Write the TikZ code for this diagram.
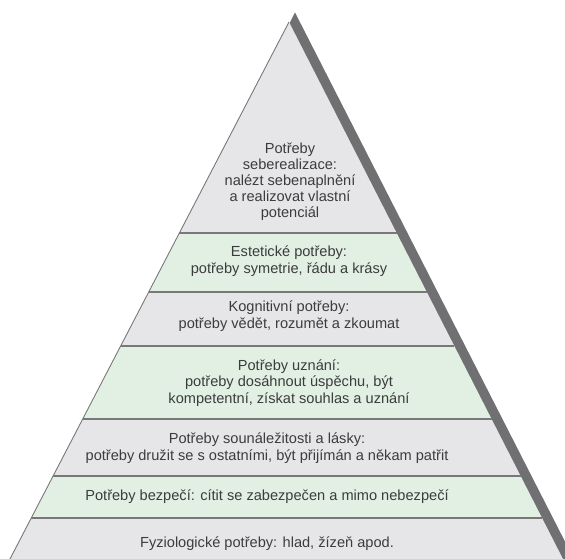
\documentclass[tikz,border=0pt]{standalone}
\usepackage{fontspec}
\setmainfont{Liberation Sans}
\definecolor{layergrey}{RGB}{230,230,233}
\definecolor{layergreen}{RGB}{226,239,227}
\definecolor{shadowgrey}{RGB}{112,112,114}
\definecolor{rulegrey}{RGB}{120,120,122}
\definecolor{textgrey}{RGB}{60,60,62}
\tikzset{
  layertext/.style={align=center, text=textgrey, font=\fontsize{14.6}{16.8}\selectfont, inner sep=0pt},
  rule/.style={draw=rulegrey, line width=1.4pt},
  edge/.style={draw=rulegrey, line width=0.9pt}
}
\newcommand{\xL}[1]{289-0.5196*(#1-22)}
\newcommand{\xR}[1]{289+0.5102*(#1-22)}
\begin{document}
\begin{tikzpicture}[x=1pt,y=-1pt]
\useasboundingbox (0,0) rectangle (565,559);
\clip (0,0) rectangle (565,559);
% shadow triangle
\fill[shadowgrey] (295,12.5) -- (580,571) -- (10,571) -- cycle;
% layers
\fill[layergrey] (289,22) -- ({\xR{233}},233) -- ({\xL{233}},233) -- cycle;
\foreach \ya/\yb/\col in {233/292/layergreen, 292/346/layergrey, 346/419/layergreen, 419/476/layergrey, 476/518/layergreen, 518/565/layergrey}{
  \fill[\col] ({\xL{\ya}},\ya) -- ({\xR{\ya}},\ya) -- ({\xR{\yb}},\yb) -- ({\xL{\yb}},\yb) -- cycle;
}
% boundaries
\foreach \y in {233,292,346,419,476,518}{
  \draw[rule] ({\xL{\y}},\y) -- ({\xR{\y}},\y);
}
\draw[edge] (289,22) -- ({\xL{565}},565);
% texts
\node[layertext, font=\fontsize{14.6}{16}\selectfont] (self) at (290,182) {Potřeby\\seberealizace:\\nalézt sebenaplnění\\a realizovat vlastní\\potenciál};
\node[layertext] (aest) at (289,261) {Estetické potřeby:\\potřeby symetrie, řádu a krásy};
\node[layertext] (cogn) at (289,316) {Kognitivní potřeby:\\potřeby vědět, rozumět a zkoumat};
\node[layertext] (este) at (289,383) {Potřeby uznání:\\potřeby dosáhnout úspěchu, být\\kompetentní, získat souhlas a uznání};
\node[layertext] (love) at (267,448) {Potřeby sounáležitosti a lásky:\\potřeby družit se s ostatními, být přijímán a někam patřit};
\node[layertext] (safe) at (267,497) {Potřeby bezpečí: cítit se zabezpečen a mimo nebezpečí};
\node[layertext] (phys) at (267,544) {Fyziologické potřeby: hlad, žízeň apod.};
\end{tikzpicture}
\end{document}
